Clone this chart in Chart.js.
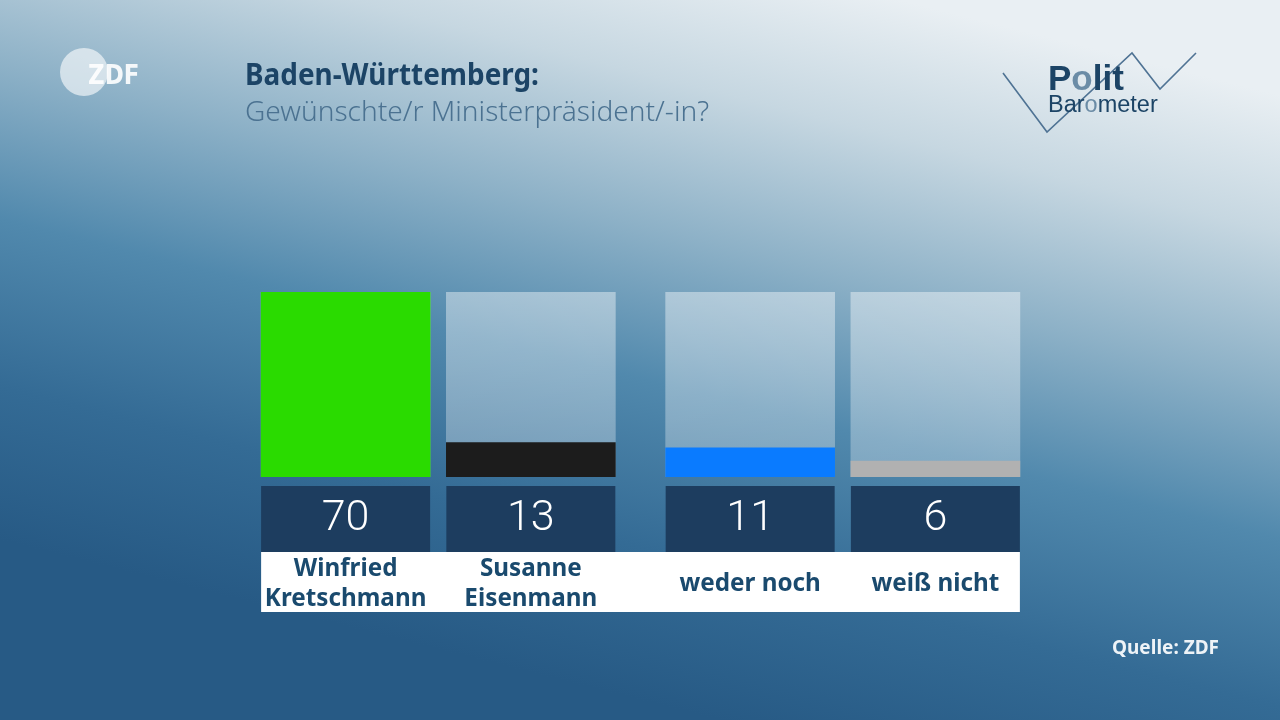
<!DOCTYPE html>
<html>
<head>
<meta charset="utf-8">
<script src="https://cdn.jsdelivr.net/npm/chart.js@4"></script>
<style>
  body { margin: 0; background: #2a5f8a; }
  #politbarometer { display: block; }
</style>
</head>
<body>
<canvas id="politbarometer" width="1280" height="720"></canvas>
<script>
// datos
const categorias = [['Winfried', 'Kretschmann'], ['Susanne', 'Eisenmann'], 'weder noch', 'weiß nicht'];
const valores = [70, 13, 11, 6];
const coloresBarras = ['#2adb00', '#1c1c1c', '#0a7bff', '#b1b1b1'];
const escalaMax = 70;

const titulo = 'Baden-Württemberg:';
const subtitulo = 'Gewünschte/r Ministerpräsident/-in?';
const fuente = 'Quelle: ZDF';

// la tercera barra va un poco separada del resto
const huecoExtra = 0.184;
const posicionX = i => i + (i >= 2 ? huecoExtra : 0);

const puntos = valores.map((v, i) => ({ x: posicionX(i), y: v }));
const fondoBarras = valores.map((v, i) => ({ x: posicionX(i), y: escalaMax }));

// texto algo estrecho, como la letra de ZDF
function textoEstrecho(ctx, txt, x, y, factor, align) {
    ctx.save();
    ctx.translate(x, y);
    ctx.scale(factor, 1);
    ctx.textAlign = align || 'left';
    ctx.fillText(txt, 0, 0);
    ctx.restore();
}

const pluginFondo = {
    id: 'fondo',
    beforeDraw(chart) {
        const ctx = chart.ctx;
        const w = chart.width, h = chart.height;
        // degradado en diagonal: claro arriba a la derecha, oscuro abajo
        let g = ctx.createLinearGradient(900, 0, 720, 720);
        g.addColorStop(0, '#e9eff3');
        g.addColorStop(0.18, '#c6d7e1');
        g.addColorStop(0.38, '#8db1c7');
        g.addColorStop(0.58, '#5189ad');
        g.addColorStop(0.8, '#346b95');
        g.addColorStop(1, '#275a85');
        ctx.fillStyle = g;
        ctx.fillRect(0, 0, w, h);
    }
};

const pluginEtiquetas = {
    id: 'etiquetas',
    afterDatasetsDraw(chart) {
        const ctx = chart.ctx;
        const meta = chart.getDatasetMeta(0);
        const base = chart.scales.y.getPixelForValue(0);
        const barras = meta.data;
        const izq = barras[0].x - barras[0].width / 2;
        const der = barras[barras.length - 1].x + barras[barras.length - 1].width / 2;

        // franja blanca de nombres
        ctx.fillStyle = '#ffffff';
        ctx.fillRect(izq, base + 75, der - izq, 60);

        barras.forEach((b, i) => {
            const x0 = b.x - b.width / 2;
            ctx.fillStyle = '#1d3d5f';
            ctx.fillRect(x0, base + 9, b.width, 66);
            ctx.fillStyle = '#ffffff';
            ctx.font = '300 43px Roboto, "Liberation Sans", sans-serif';
            ctx.textAlign = 'center';
            ctx.textBaseline = 'middle';
            ctx.fillText(valores[i], b.x, base + 42);

            ctx.fillStyle = '#1a4a6e';
            ctx.font = 'bold 25px "Noto Sans", sans-serif';
            ctx.textBaseline = 'alphabetic';
            const lab = categorias[i];
            if (Array.isArray(lab)) {
                textoEstrecho(ctx, lab[0], b.x, base + 99, 0.97, 'center');
                textoEstrecho(ctx, lab[1], b.x, base + 129, 0.97, 'center');
            } else {
                textoEstrecho(ctx, lab, b.x, base + 114, 0.97, 'center');
            }
        });
    },
    afterDraw(chart) {
        const ctx = chart.ctx;
        ctx.textBaseline = 'alphabetic';
        // titulo y subtitulo
        ctx.fillStyle = '#1c4466';
        ctx.font = 'bold 30px "Noto Sans", sans-serif';
        textoEstrecho(ctx, titulo, 245, 85, 0.93);
        ctx.fillStyle = '#4b7291';
        ctx.font = '300 27px "Noto Sans", sans-serif';
        textoEstrecho(ctx, subtitulo, 245, 121, 1.04);

        // fuente
        ctx.fillStyle = '#eef3f7';
        ctx.font = 'bold 19px "Noto Sans", sans-serif';
        textoEstrecho(ctx, fuente, 1219, 654, 1.0, 'right');

        // logo ZDF
        ctx.fillStyle = 'rgba(255,255,255,0.6)';
        ctx.beginPath();
        ctx.arc(84, 72, 24, 0, Math.PI * 2);
        ctx.fill();
        ctx.fillStyle = 'rgba(255,255,255,0.9)';
        ctx.font = 'bold 27px "DejaVu Sans", sans-serif';
        textoEstrecho(ctx, 'ZDF', 88, 84, 0.85);

        // logo Politbarometer
        ctx.strokeStyle = '#4f7394';
        ctx.lineWidth = 1.6;
        ctx.beginPath();
        ctx.moveTo(1003, 73);
        ctx.lineTo(1047, 132);
        ctx.lineTo(1132, 53);
        ctx.lineTo(1160, 89);
        ctx.lineTo(1196, 53);
        ctx.stroke();

        ctx.font = 'bold 35px "Liberation Sans", Arial, sans-serif';
        ctx.textAlign = 'left';
        let x = 1048;
        [['P', '#1c4466'], ['o', '#6b8ca6'], ['lit', '#1c4466']].forEach(p => {
            ctx.fillStyle = p[1];
            ctx.fillText(p[0], x, 90);
            x += ctx.measureText(p[0]).width;
        });
        ctx.font = '23.5px "Liberation Sans", Arial, sans-serif';
        x = 1048;
        [['Bar', '#1c4466'], ['o', '#6b8ca6'], ['meter', '#1c4466']].forEach(p => {
            ctx.fillStyle = p[1];
            ctx.fillText(p[0], x, 112);
            x += ctx.measureText(p[0]).width;
        });
    }
};

function colorFondoBarra(context) {
    const area = context.chart.chartArea;
    if (!area) return 'rgba(255,255,255,0.35)';
    const g = context.chart.ctx.createLinearGradient(0, area.top, 0, area.bottom);
    g.addColorStop(0, 'rgba(255,255,255,0.42)');
    g.addColorStop(1, 'rgba(255,255,255,0.28)');
    return g;
}

const canvas = document.getElementById('politbarometer');
const myChart = new Chart(canvas.getContext('2d'), {
    type: 'bar',
    data: {
        datasets: [
            {
                label: 'Werte',
                data: puntos,
                backgroundColor: coloresBarras,
                barThickness: 169,
                grouped: false,
                order: 0
            },
            {
                label: 'Hintergrund',
                data: fondoBarras,
                backgroundColor: colorFondoBarra,
                barThickness: 169,
                grouped: false,
                order: 1
            }
        ]
    },
    options: {
        responsive: false,
        animation: false,
        layout: { padding: { left: 253, right: 252, top: 292, bottom: 243 } },
        plugins: { legend: { display: false }, tooltip: { enabled: false } },
        scales: {
            x: { type: 'linear', offset: false, min: -0.5, max: 3 + huecoExtra + 0.5, display: false },
            y: { min: 0, max: escalaMax, display: false }
        }
    },
    plugins: [pluginFondo, pluginEtiquetas]
});
</script>
</body>
</html>
